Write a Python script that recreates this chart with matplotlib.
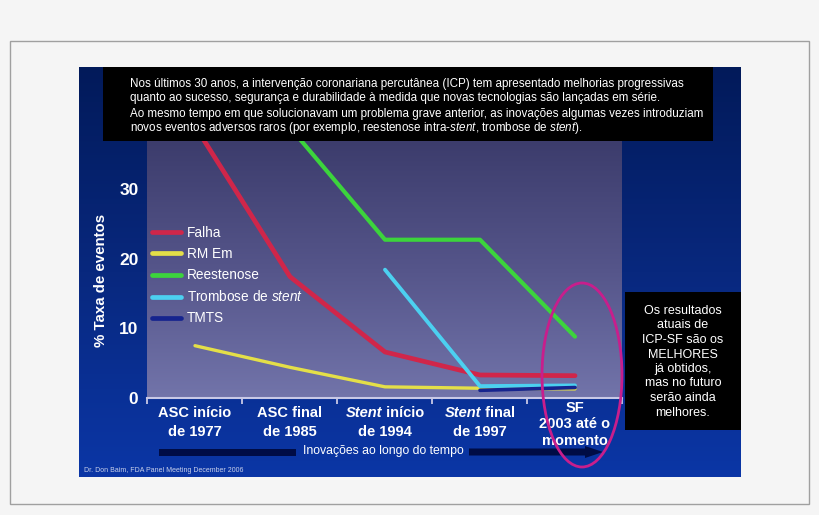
import matplotlib
matplotlib.use('Agg')
import matplotlib.pyplot as plt
import numpy as np
from matplotlib.patches import Rectangle, Ellipse, FancyArrow
from matplotlib.colors import LinearSegmentedColormap
from matplotlib.offsetbox import TextArea, HPacker, VPacker, AnnotationBbox

plt.rcParams['font.family'] = ['Liberation Sans', 'DejaVu Sans']
plt.rcParams['mathtext.fontset'] = 'custom'
plt.rcParams['mathtext.rm'] = 'Liberation Sans'
plt.rcParams['mathtext.it'] = 'Liberation Sans:italic'
plt.rcParams['mathtext.bf'] = 'Liberation Sans:bold'

# categories (underscores mark italic words)
periods = [1, 2, 3, 4, 5]
period_labels = ['ASC início\nde 1977', 'ASC final\nde 1985', '_Stent_ início\nde 1994',
                 '_Stent_ final\nde 1997', 'SF\n2003 até o\nmomento']

# % event rate per period (nan = not shown)
nan = np.nan
falha = [39.0, 17.4, 6.6, 3.3, 3.2]
rm_em = [7.5, 4.4, 1.6, 1.4, 1.3]
reestenose = [nan, 38.8, 22.7, 22.7, 8.8]
trombose = [nan, nan, 18.4, 1.7, 1.8]
tmts = [nan, nan, nan, 1.1, 1.5]

series_names = ['Falha', 'RM Em', 'Reestenose', 'Trombose de $\\it{stent}$', 'TMTS']
series_colors = ['#d0264a', '#e4df48', '#3cd43c', '#4cd0f0', '#16248e']

y_ticks = [0, 10, 20, 30]

header_lines = [
    'Nos últimos 30 anos, a intervenção coronariana percutânea (ICP) tem apresentado melhorias progressivas',
    'quanto ao sucesso, segurança e durabilidade à medida que novas tecnologias são lançadas em série.',
    'Ao mesmo tempo em que solucionavam um problema grave anterior, as inovações algumas vezes introduziam',
    'novos eventos adversos raros (por exemplo, reestenose intra-$\\it{stent}$, trombose de $\\it{stent}$).',
]
side_lines = ['Os resultados', 'atuais de', 'ICP-SF são os', 'MELHORES', 'já obtidos,',
              'mas no futuro', 'serão ainda', 'melhores.']
arrow_text = 'Inovações ao longo do tempo'
footer_text = 'Dr. Don Baim, FDA Panel Meeting December 2006'

W, H = 820, 515
fig = plt.figure(figsize=(W / 100, H / 100), dpi=100, facecolor='#f5f5f5')

# background layer in pixel coordinates
bg = fig.add_axes([0, 0, 1, 1], zorder=0)
bg.set_xlim(0, W)
bg.set_ylim(H, 0)
bg.axis('off')
bg.add_patch(Rectangle((10.5, 40.5), 799, 463, fill=False, edgecolor='#a0a0a0', lw=1))
slide_cmap = LinearSegmentedColormap.from_list('slide', ['#021a5a', '#08287e', '#0b36a6'])
bg.imshow(np.linspace(0, 1, 256).reshape(-1, 1), cmap=slide_cmap, aspect='auto',
          extent=[79, 741, 477, 67], zorder=1)

# chart
ax = fig.add_axes([147.5 / W, 1 - 398 / H, 475 / W, 258 / H], zorder=1)
plot_cmap = LinearSegmentedColormap.from_list('plot', ['#3c3c6c', '#55558a', '#7274aa'])
ax.imshow(np.linspace(0, 1, 256).reshape(-1, 1), cmap=plot_cmap, aspect='auto',
          extent=[0, 1, 0, 1], transform=ax.transAxes, zorder=0)

all_series = [falha, rm_em, reestenose, trombose, tmts]
widths = [3.4, 2.4, 3.0, 2.8, 2.6]
for vals, name, col, lw in zip(all_series, series_names, series_colors, widths):
    ax.plot(periods, vals, color=col, lw=lw, label=name, zorder=2,
            solid_joinstyle='round', solid_capstyle='round')

ax.set_xlim(0.5, 5.5)
ax.set_ylim(0, 37)
for s in ['top', 'right', 'left']:
    ax.spines[s].set_visible(False)
ax.spines['bottom'].set_color('#c8c8e6')
ax.spines['bottom'].set_linewidth(1.5)
ax.spines['bottom'].set_zorder(3)
ax.set_xticks(periods)
ax.set_xticklabels([])
ax.tick_params(axis='x', which='major', length=0)
ax.set_xticks(np.arange(0.5, 6.0, 1.0), minor=True)
ax.tick_params(axis='x', which='minor', length=4, width=1.3, color='#c8c8e6', direction='out')
ax.set_yticks(y_ticks)
ax.set_yticklabels([str(t) for t in y_ticks])
ax.tick_params(axis='y', length=0, pad=6.5, labelsize=12.5, labelcolor='white')
for lab in ax.get_yticklabels():
    lab.set_fontweight('bold')
ax.set_ylabel('% Taxa de eventos', color='white', fontsize=10.8, fontweight='bold')
ax.yaxis.set_label_coords(-0.083, 0.457)

leg = ax.legend(loc='upper left', bbox_to_anchor=(0.0095, 0.666), frameon=False,
                fontsize=9.8, labelcolor='white', handlelength=2.1, handletextpad=0.45,
                labelspacing=0.52, borderpad=0, borderaxespad=0)
for line in leg.get_lines():
    line.set_linewidth(3.4)

# x tick labels with mixed italic
for p, label in zip(periods, period_labels):
    rows = []
    for line in label.split('\n'):
        parts = line.split('_')
        segs = []
        for i, part in enumerate(parts):
            if part:
                segs.append(TextArea(part, textprops=dict(
                    color='white', fontsize=10.5, fontweight='bold',
                    fontstyle='italic' if i % 2 == 1 else 'normal')))
        rows.append(HPacker(children=segs, pad=0, sep=0, align='baseline'))
    n = len(rows)
    box = VPacker(children=rows, pad=0, sep=3.5 if n == 2 else 1.8, align='center')
    ab = AnnotationBbox(box, (p, 0), xycoords='data', xybox=(0, -5.5 if n == 2 else -2),
                        boxcoords='offset points', box_alignment=(0.5, 1), frameon=False,
                        pad=0, annotation_clip=False)
    ab.set_zorder(4)
    ax.add_artist(ab)

# overlay layer in pixel coordinates
ov = fig.add_axes([0, 0, 1, 1], zorder=3)
ov.set_xlim(0, W)
ov.set_ylim(H, 0)
ov.axis('off')
ov.patch.set_alpha(0)

ov.add_patch(Rectangle((103, 67), 610, 74, facecolor='black', edgecolor='none'))
for i, line in enumerate(header_lines):
    ov.text(130, 83.5 + 15 * i, line, color='white', fontsize=8.35, ha='left', va='center')

ov.add_patch(Rectangle((625, 292), 116, 138, facecolor='black', edgecolor='none'))
for i, line in enumerate(side_lines):
    ov.text(683, 311 + 14.5 * i, line, color='white', fontsize=9, ha='center', va='center')

ov.add_patch(Rectangle((159, 448.5), 137, 7, facecolor='#000c45', edgecolor='none'))
ov.add_patch(FancyArrow(469, 452, 134, 0, width=7, head_width=12, head_length=18,
                        length_includes_head=True, facecolor='#000c45', edgecolor='none'))
ov.text(383, 451, arrow_text, color='white', fontsize=8.8, ha='center', va='center')
ov.text(84, 470, footer_text, color='#c8d0ea', fontsize=5, ha='left', va='center')

ov.add_patch(Ellipse((582, 375), 80, 184, fill=False, edgecolor='#c81e8c', lw=2))

fig.savefig('out.png', dpi=100)
